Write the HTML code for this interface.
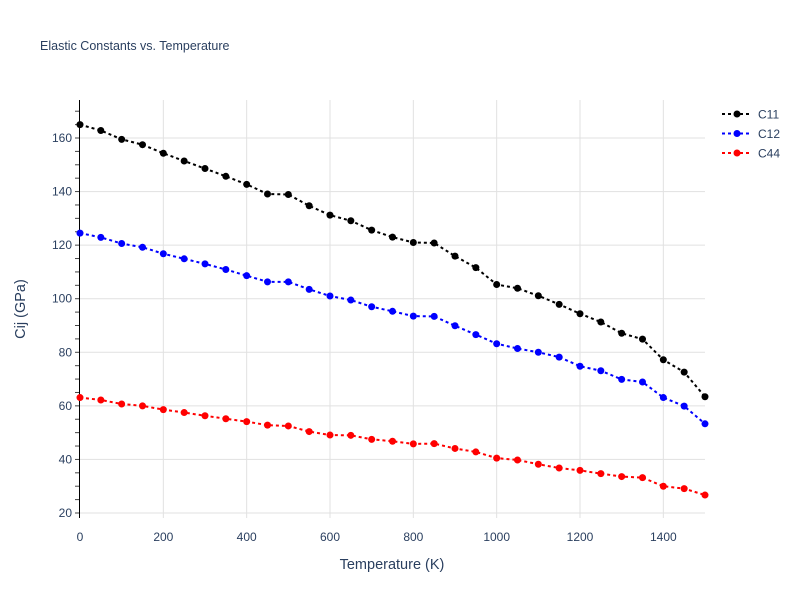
<!DOCTYPE html>
<html><head><meta charset="utf-8"><style>
body{margin:0;background:#fff;font-family:"Liberation Sans",sans-serif;}
svg text{font-family:"Liberation Sans",sans-serif;}
</style></head><body>
<svg id="chart" width="800" height="600" xmlns="http://www.w3.org/2000/svg">
<rect width="800" height="600" fill="#fff"/>
<text x="40" y="50" font-size="12.5" fill="#2a3f5f">Elastic Constants vs. Temperature</text>
<g id="grid"></g><g id="axes"></g><g id="series"></g><g id="legend"></g>
<text x="392" y="569" font-size="14.5" fill="#2a3f5f" text-anchor="middle">Temperature (K)</text>
<text transform="translate(25,309) rotate(-90)" font-size="14.5" fill="#2a3f5f" text-anchor="middle">Cij (GPa)</text>
</svg>
<script>
const temps=[0,50,100,150,200,250,300,350,400,450,500,550,600,650,700,750,800,850,900,950,1000,1050,1100,1150,1200,1250,1300,1350,1400,1450,1500];
const c11=[165,162.8,159.5,157.5,154.3,151.4,148.6,145.7,142.7,139.1,138.9,134.7,131.2,129.1,125.6,123,121,120.8,115.9,111.6,105.3,103.9,101.1,97.9,94.4,91.3,87.1,84.9,77.2,72.6,63.4];
const c12=[124.5,122.9,120.6,119.2,116.8,114.9,113,110.9,108.6,106.3,106.3,103.5,101,99.5,97,95.3,93.5,93.4,89.9,86.6,83.2,81.4,80,78.2,74.8,73.1,69.9,68.9,63.1,59.9,53.3];
const c44=[63.1,62.2,60.7,60.0,58.6,57.5,56.3,55.2,54.1,52.8,52.5,50.4,49.1,49.0,47.5,46.8,45.8,45.9,44.1,42.8,40.5,39.8,38.2,36.8,35.9,34.7,33.6,33.2,30.0,29.1,26.7];
const seriesNames=["C11","C12","C44"];
const seriesColors=["#000000","#0000ff","#ff0000"];
const xTicks=[0,200,400,600,800,1000,1200,1400];
const yTicks=[20,40,60,80,100,120,140,160];
const NS="http://www.w3.org/2000/svg";
const X0=80,X1=705,YT=100,YB=518;
const xs=v=>X0+(v-0)*(X1-X0)/1500;
const ys=v=>513-(v-20)*375/140;
function mk(tag,attrs,parent){const e=document.createElementNS(NS,tag);for(const k in attrs)e.setAttribute(k,attrs[k]);parent.appendChild(e);return e;}
const grid=document.getElementById('grid'),axes=document.getElementById('axes'),ser=document.getElementById('series'),leg=document.getElementById('legend');
xTicks.forEach(t=>{
 if(t>0){const l=mk('line',{x1:xs(t),x2:xs(t),y1:YT,y2:YB,stroke:'#e1e1e1','stroke-width':1},grid);
 
 }
 const tx=mk('text',{x:xs(t),y:541,'font-size':12,fill:'#2a3f5f','text-anchor':'middle'},axes);tx.textContent=t;
 
 
});
yTicks.forEach(t=>{
 const l=mk('line',{x1:X0,x2:X1,y1:ys(t),y2:ys(t),stroke:'#e1e1e1','stroke-width':1},grid);
 
 
 const tx=mk('text',{x:72,y:ys(t)+4,'font-size':12,fill:'#2a3f5f','text-anchor':'end'},axes);tx.textContent=t;
 
 
});
for(let v=20;v<=170;v+=5){mk('line',{x1:75,x2:79,y1:ys(v),y2:ys(v),stroke:'#444','stroke-width':1},axes);}
const ax=mk('line',{x1:79.5,x2:79.5,y1:YT,y2:YB,stroke:'#000','stroke-width':1},axes);


[c11,c12,c44].forEach((arr,i)=>{
 const g=mk('g',{},ser);
 
 
 const pts=arr.map((v,j)=>xs(temps[j])+','+ys(v)).join(' ');
 mk('polyline',{points:pts,fill:'none',stroke:seriesColors[i],'stroke-width':2,'stroke-dasharray':'3,3'},g);
 arr.forEach((v,j)=>{const c=mk('circle',{cx:xs(temps[j]),cy:ys(v),r:3.5,fill:seriesColors[i]},g);
  
  });
 const ly=114+i*19.5;
 const lg=mk('g',{},leg);
 
 
 mk('line',{x1:722,x2:752,y1:ly,y2:ly,stroke:seriesColors[i],'stroke-width':2,'stroke-dasharray':'3,3'},lg);
 mk('circle',{cx:737,cy:ly,r:3.5,fill:seriesColors[i]},lg);
 const t=mk('text',{x:758,y:ly+4.5,'font-size':12,fill:'#2a3f5f'},lg);t.textContent=seriesNames[i];
});
</script>
</body></html>
